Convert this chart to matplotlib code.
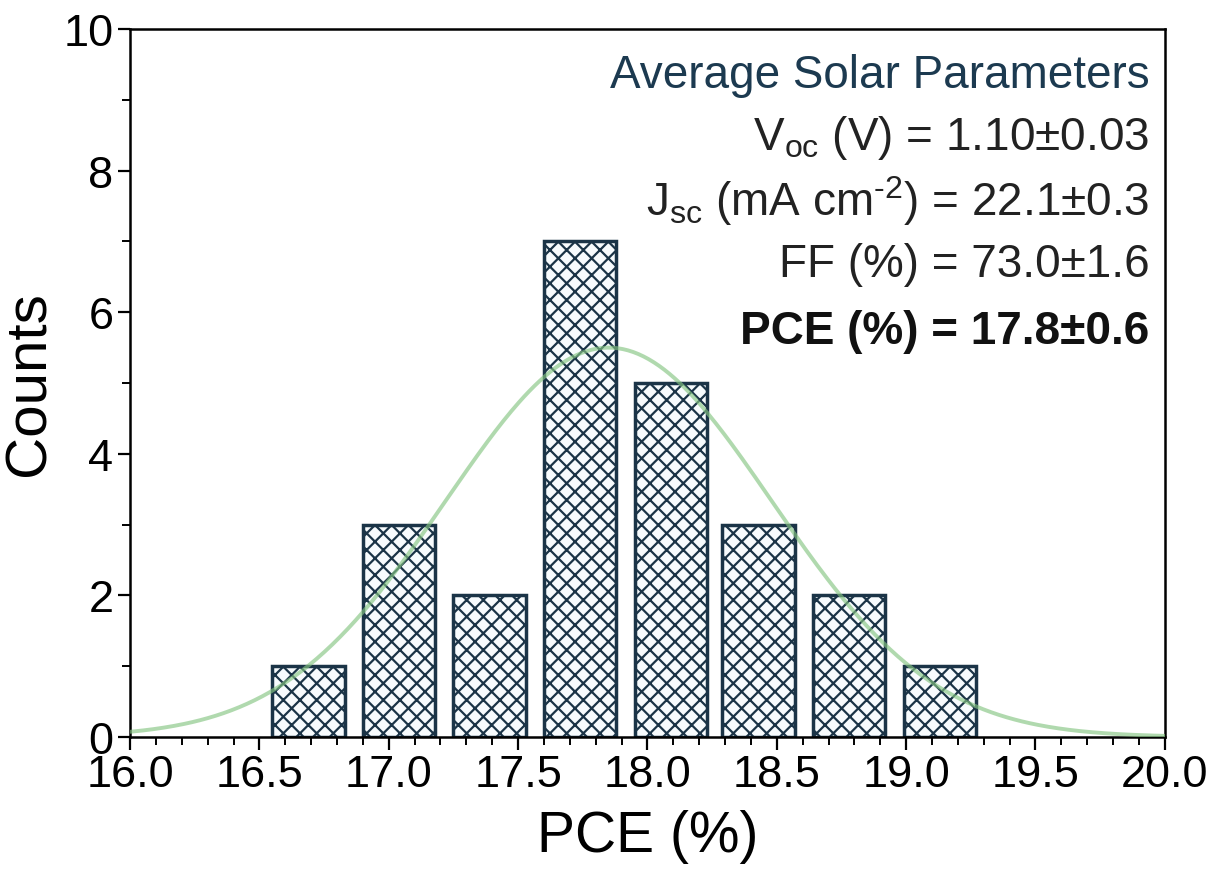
import numpy as np
import matplotlib
matplotlib.use("Agg")
import matplotlib.pyplot as plt
from matplotlib.ticker import MultipleLocator

plt.rcParams['font.family'] = ['Liberation Sans', 'DejaVu Sans']
plt.rcParams['mathtext.fontset'] = 'custom'
plt.rcParams['mathtext.rm'] = 'Liberation Sans'
plt.rcParams['mathtext.it'] = 'Liberation Sans'
plt.rcParams['mathtext.bf'] = 'Liberation Sans:bold'
plt.rcParams['hatch.linewidth'] = 1.6

# histogram of PCE values
bin_centers = [16.69, 17.04, 17.39, 17.74, 18.09, 18.43, 18.78, 19.13]
counts = [1, 3, 2, 7, 5, 3, 2, 1]
bar_width = 0.28

# gaussian fit parameters
fit_center = 17.85
fit_sigma = 0.63
fit_amp = 5.5

param_lines = [
    r"V$_{\mathregular{oc}}$ (V) = 1.10±0.03",
    "J$_{\\mathregular{sc}}$ (mA cm$^{\\mathregular{\u20102}}$) = 22.1±0.3",
    "FF (%) = 73.0±1.6",
]
pce_line = "PCE (%) = 17.8±0.6"

navy = '#1b3447'

fig = plt.figure(figsize=(12.21, 8.70), dpi=100)
ax = fig.add_axes([0.1065, 0.1517, 0.8475, 0.8138])

ax.bar(bin_centers, counts, width=bar_width, color='#f7fbfd', edgecolor=navy,
       linewidth=2.5, hatch='xx', zorder=2)

xs = np.linspace(16.0, 20.0, 400)
ax.plot(xs, fit_amp * np.exp(-(xs - fit_center) ** 2 / (2 * fit_sigma ** 2)),
        color='#86c683', lw=2.8, alpha=0.65, zorder=3)

ax.set_xlim(16.0, 20.0)
ax.set_ylim(0, 10)
ax.xaxis.set_major_locator(MultipleLocator(0.5))
ax.xaxis.set_minor_locator(MultipleLocator(0.1))
ax.yaxis.set_major_locator(MultipleLocator(2))
ax.yaxis.set_minor_locator(MultipleLocator(1))
ax.xaxis.set_major_formatter(matplotlib.ticker.FormatStrFormatter('%.1f'))
ax.tick_params(which='major', length=9, width=1.6, labelsize=32.5, direction='out')
ax.tick_params(which='minor', length=6, width=1.4, direction='out')
ax.tick_params(top=False, right=False, which='both')
ax.tick_params(axis='x', pad=3)
ax.tick_params(axis='y', pad=3)
for s in ax.spines.values():
    s.set_linewidth(1.8)

ax.set_xlabel("PCE (%)", fontsize=41)
ax.set_ylabel("Counts", fontsize=42)
ax.xaxis.set_label_coords(0.5, -0.102)
ax.yaxis.set_label_coords(-0.071, 0.5)

ax.text(0.985, 0.935, "Average Solar Parameters", transform=ax.transAxes,
        ha='right', va='center', fontsize=33, color='#1c3a50')
ys = [0.848, 0.758, 0.668]
for yy, t in zip(ys, param_lines):
    ax.text(0.985, yy, t, transform=ax.transAxes, ha='right', va='center',
            fontsize=33, color='#222222')
ax.text(0.985, 0.573, pce_line, transform=ax.transAxes, ha='right', va='center',
        fontsize=33, color='#111111', fontweight='bold')

fig.savefig('out.png', dpi=100)
